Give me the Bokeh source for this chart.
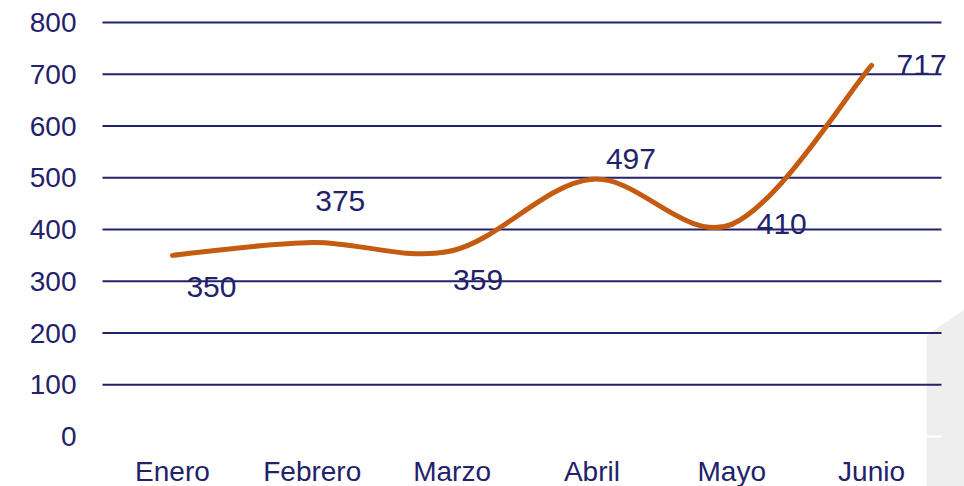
from bokeh.plotting import figure
from bokeh.models import ColumnDataSource, Range1d
from bokeh.core.properties import value
from bokeh.embed import file_html
from bokeh.resources import INLINE

# ---- data ----
categories = ["Enero", "Febrero", "Marzo", "Abril", "Mayo", "Junio"]
values = [350, 375, 359, 497, 410, 717]
y_ticks = [0, 100, 200, 300, 400, 500, 600, 700, 800]
y_tick_labels = ["0", "100", "200", "300", "400", "500", "600", "700", "800"]

# label offsets (screen px) for each data label
label_dx = [39, 28, 26, 39, 50, 50]
label_dy = [32, -41, 29, -20, 0, 0]

NAVY = "#22226A"
ORANGE = "#C55A11"
FONT = value("Liberation Sans")

W, H = 964, 486
# frame spans the whole figure; scales chosen so the category band [0, 6]
# maps onto the plotting area
px_per_x = 139.83
px_per_y = 0.5175
x0_px, y0_px = 102, 436  # figure pixel of (0, 0)
x_start = -x0_px / px_per_x
x_end = (W - x0_px) / px_per_x
y_end = y0_px / px_per_y
y_start = -(H - y0_px) / px_per_y

p = figure(width=W, height=H, output_backend="svg", toolbar_location=None,
           x_range=Range1d(x_start, x_end), y_range=Range1d(y_start, y_end),
           min_border=0)
p.axis.visible = False
p.grid.visible = False
p.outline_line_color = None
p.background_fill_color = "white"
p.border_fill_color = "white"


def px2data(px, py):
    return (px - x0_px) / px_per_x, (y0_px - py) / px_per_y


# decorative light-grey shape at lower right
shape_px = [(926, 486), (926, 335), (964, 309), (964, 486)]
sx, sy = zip(*[px2data(a, b) for a, b in shape_px])
p.patch(list(sx), list(sy), fill_color="#EEEEEE", line_color=None)

# horizontal gridlines
n = len(categories)
grid_colors = ["white" if t == 0 else NAVY for t in y_ticks]
p.segment(x0=[0] * len(y_ticks), y0=y_ticks, x1=[n] * len(y_ticks), y1=y_ticks,
          line_color=grid_colors, line_width=2)

# y tick labels
p.text(x=[0] * len(y_ticks), y=y_ticks, text=y_tick_labels, x_offset=-26,
       text_align="right", text_baseline="middle", text_font=FONT,
       text_font_size="28px", text_color=NAVY)

# x category labels
xc = [i + 0.5 for i in range(n)]
p.text(x=xc, y=[0] * n, text=categories, y_offset=35,
       text_align="center", text_baseline="middle", text_font=FONT,
       text_font_size="28px", text_color=NAVY)

# smoothed line (Catmull-Rom -> cubic Bezier)
pts = list(zip(xc, values))
bx0, by0, bx1, by1, c0x, c0y, c1x, c1y = ([] for _ in range(8))
for i in range(n - 1):
    pm = pts[i - 1] if i > 0 else pts[i]
    pa = pts[i]
    pb = pts[i + 1]
    pn = pts[i + 2] if i + 2 < n else pts[i + 1]
    bx0.append(pa[0]); by0.append(pa[1])
    bx1.append(pb[0]); by1.append(pb[1])
    c0x.append(pa[0] + (pb[0] - pm[0]) / 6); c0y.append(pa[1] + (pb[1] - pm[1]) / 6)
    c1x.append(pb[0] - (pn[0] - pa[0]) / 6); c1y.append(pb[1] - (pn[1] - pa[1]) / 6)
p.bezier(x0=bx0, y0=by0, x1=bx1, y1=by1, cx0=c0x, cy0=c0y, cx1=c1x, cy1=c1y,
         line_color=ORANGE, line_width=5, line_cap="round")

# data labels
src = ColumnDataSource(dict(x=xc, y=values, t=[str(v) for v in values],
                            dx=label_dx, dy=label_dy))
p.text(x="x", y="y", text="t", x_offset="dx", y_offset="dy", source=src,
       text_align="center", text_baseline="middle", text_font=FONT,
       text_font_size="30px", text_color=NAVY)

open("out.html", "w").write(file_html(p, INLINE))
